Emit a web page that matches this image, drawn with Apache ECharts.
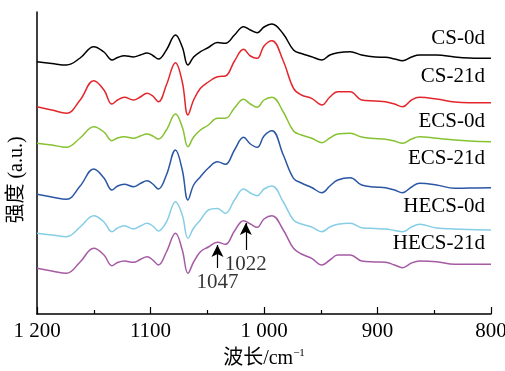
<!DOCTYPE html>
<html><head><meta charset="utf-8">
<script src="https://cdn.jsdelivr.net/npm/echarts@6/dist/echarts.min.js"></script>
<style>html,body{margin:0;padding:0;background:#fff}#c{width:505px;height:371px}</style>
</head><body><div id="c"></div>
<script>
// wavenumbers (cm-1)
const wavenumbers = [1200,1187,1174,1162,1150,1141,1134,1129,1123,1115,1109,1103,1098,1093,1086,1078,1072,1067,1062,1056,1049,1041,1034,1026,1018,1012,1006,1000,993,983,974,967,958,949,942,935,924,914,902,893,885,878,870,863,848,832,819,800];
// intensities (a.u., offset traces)
const cs0 = [252.3,250.5,249,256,267.3,262,254,256.5,258.3,257,259,261,258.5,255,264,279,267,249,257,262.3,266.5,271.5,270.7,279,287.3,284,281.3,287,290,280,264,260.5,257.3,254,259,261.3,262.3,259,257,256.7,255,253.3,257,259,259,257,256,255.7];
const cs21 = [207.3,204,200.7,214,233.3,224,210,214,216.7,214,217,220.7,218,212.3,229,251.3,232,199,214,225.7,232,237.3,238,253,264.7,258,255.7,268,273.3,253,225.7,219,215.7,209,217,222.3,222.3,214,213,212.3,210,207.3,214,216.7,215,212,211.3,211.3];
const ecs0 = [170.7,169,166.7,176,187.3,182,173.3,176,177.3,175.7,178,180,178,175,184,200,187,167.3,177,184,189,195.7,195.7,206,214.7,210,206.7,214,216.7,202,183,179,175.7,171.3,176,180,180.7,177,175.5,174.7,173,170.7,175,177.3,175.7,174,173,172.3];
const ecs21 = [119.7,117,114.7,128,145,136,124,128,129.7,127.3,130.5,133.3,130,125,139,164,144,114,129,137.3,146,152.3,149.7,164,176.7,170,166.7,178,183.3,159,135.7,131,126.5,121.3,128,134,136.3,129,127,126.3,124,121.3,127,130.7,129,125.7,126,126.3];
const hecs0 = [80.7,79,77.3,87,98.3,92,82.3,86,88.3,85,88,90.7,88,83,92,112.3,99,75.7,86,94,104,105.5,100.7,114,125,121,118.3,125,128,112,94,90,87,82.3,87,89.7,90.7,86.3,85.5,85,83.5,82.3,87,89.7,86,85,84.5,84];
const hecs21 = [45.7,43,40.7,52,65.7,59,48.3,51.5,53,51.7,54.5,57.3,54,49,62,80.7,64,40.7,52,62.3,67,71.7,69.7,83,93.3,90,86.7,95,98.3,84,65.7,60,55.7,49,54,59,59,53,52,51.7,49,46.3,51,53,52.3,49.7,49.7,49.7];
const seriesNames = ['CS-0d','CS-21d','ECS-0d','ECS-21d','HECS-0d','HECS-21d'];
const tickLabels = {1200:'1 200',1100:'1100',1000:'1 000',900:'900',800:'800'};
// annotation arrows: [position, from, to, label]
const arrows = [[1041,46,69,'1047'],[1016,64,91,'1022']];

const colors = ['#000000','#e3262b','#86c232','#2a56a5','#86cde6','#a55ba4'];
const allData = [cs0,cs21,ecs0,ecs21,hecs0,hecs21];
const serif = '"Liberation Serif","Times New Roman",serif';

const chart = echarts.init(document.getElementById('c'));
const series = allData.map((arr,i)=>({
  name: seriesNames[i], type:'line', smooth:0.4, symbol:'none',
  lineStyle:{color:colors[i],width:1.5},
  data: arr.map((v,j)=>[wavenumbers[j],v])
}));
series[5].markLine = {
  silent:true, symbol:['none','arrow'], symbolSize:[9,12],
  lineStyle:{color:'#000',width:1.2,type:'solid'},
  label:{show:false},
  data: arrows.map(a=>[{coord:[a[0],a[1]]},{coord:[a[0],a[2]]}])
};
// label texts as scatter points
series.push({
  type:'scatter', symbolSize:0, silent:true,
  data: arrows.map(a=>({value:[a[0],a[1]], label:{show:true,formatter:a[3],position:'bottom',distance:4,color:'#000',fontFamily:serif,fontSize:21}}))
});

const legendY = [40,78,123,160,208,245];
const graphic = seriesNames.map((n,i)=>({
  type:'text', right:20, top:legendY[i]-12,
  style:{text:n,fill:'#000',font:'21px '+serif,textAlign:'right'}
}));
graphic.push({
  type:'text', x:16.5, y:180, rotation:Math.PI/2,
  style:{text:'强度 (a.u.)',fill:'#000',font:'20px "Liberation Serif","Noto Sans CJK SC",serif',align:'center',verticalAlign:'middle'}
});

chart.setOption({
  animation:false,
  grid:{left:37,right:14,top:12,bottom:57,outerBoundsMode:'none',containLabel:false},
  xAxis:{type:'value',inverse:true,min:800,max:1200,interval:100,
    axisLine:{lineStyle:{color:'#000',width:1.5}},
    axisTick:{inside:true,length:7,lineStyle:{color:'#000',width:1.2}},
    minorTick:{show:true,splitNumber:2,length:4,lineStyle:{color:'#000',width:1.2}},
    splitLine:{show:false},
    axisLabel:{color:'#000',fontFamily:serif,fontSize:21,margin:7,formatter:v=>tickLabels[v]||''},
    name:'波长/cm{s|−1}',nameLocation:'middle',nameGap:34,
    nameTextStyle:{color:'#000',fontFamily:'"Liberation Serif","Noto Sans CJK SC",serif',fontSize:20,
      rich:{s:{fontSize:11,verticalAlign:'top',padding:[0,0,10,0],fontFamily:serif,color:'#000'}}}
  },
  yAxis:{type:'value',min:0,max:302,
    axisLine:{show:true,lineStyle:{color:'#000',width:1.5}},
    axisTick:{show:false},axisLabel:{show:false},splitLine:{show:false}
  },
  graphic:graphic,
  series:series
});
</script></body></html>
